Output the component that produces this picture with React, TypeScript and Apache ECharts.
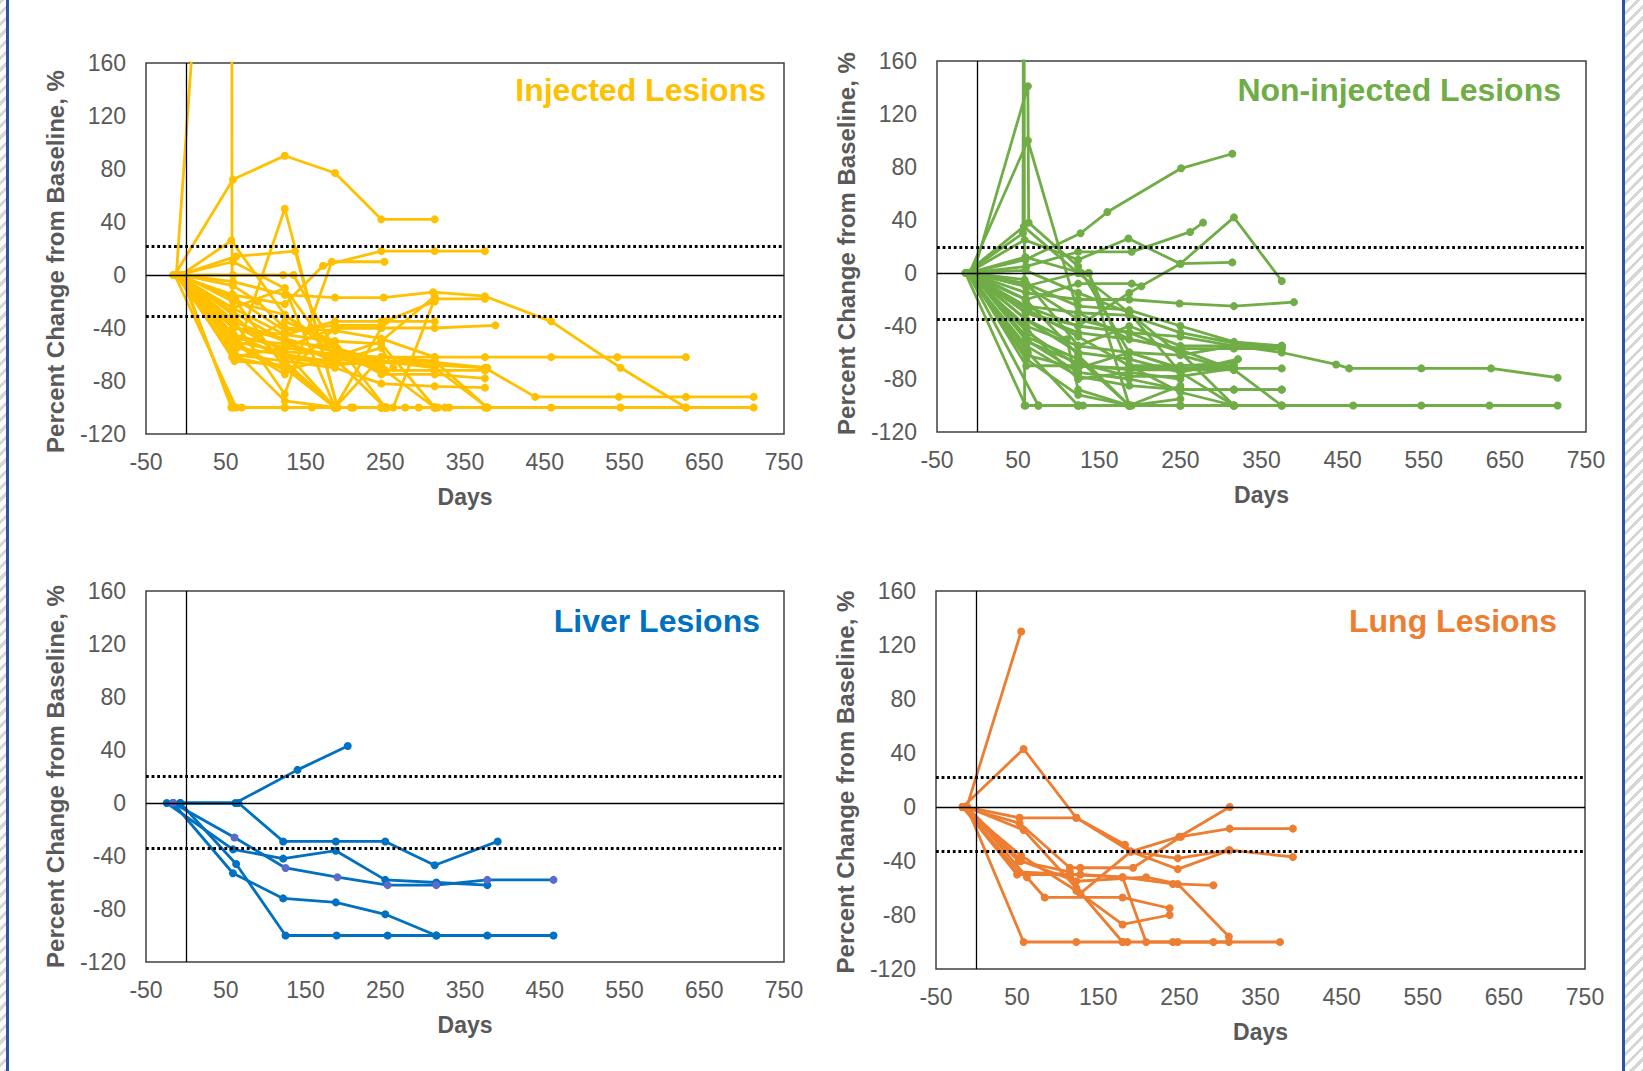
import React, { useEffect, useRef } from "react";
import * as echarts from "echarts";

type Pt = [number, number];

// ---------- DATA ----------
const panelTitles = ["Injected Lesions", "Non-injected Lesions", "Liver Lesions", "Lung Lesions"];
const panelColors = ["#FFC000", "#70AD47", "#0070C0", "#ED7D31"];
const upperThresholds = [21.5, 19.5, 20, 22];
const lowerThresholds = [-31, -35, -34, -32.5];
const xTickMin = -50;
const xTickMax = 750;
const xTickStep = 100;
const yTickMin = -120;
const yTickMax = 160;
const yTickStep = 40;

const injectedLesions: Pt[][] = [
  [[-12, 0], [57, 590], [58, -62], [124, -70], [187, -100], [245, -100]],
  [[-14, 0], [59, 72], [124, 90], [187, 77], [245, 42], [312, 42]],
  [[-10, 0], [61, -62], [124, 50], [190, -100], [252, -100]],
  [[-8, 0], [63, 14], [137, 18], [190, -100], [250, -100], [312, -100]],
  [[-6, 0], [57, 26], [124, -30], [187, -60], [245, -66], [312, -66], [378, -70]],
  [[-14, 0], [59, -45], [124, -55], [187, -60], [245, -66], [312, -68], [375, -70], [438, -92], [543, -92], [627, -92], [712, -92]],
  [[-12, 0], [59, -60], [124, -65], [187, -100], [245, -100], [312, -100], [375, -100], [458, -100], [545, -100], [627, -100], [712, -100]],
  [[-10, 0], [59, -50], [124, -58], [187, -60], [245, -62], [312, -62], [375, -62], [458, -62], [541, -62], [627, -62]],
  [[-8, 0], [59, -5], [124, -15], [187, -17], [248, -17], [310, -13], [375, -16], [458, -35], [545, -70], [627, -100]],
  [[-16, 0], [59, -25], [124, -45], [187, -50], [250, -100], [260, -100], [312, -18], [375, -18]],
  [[-12, 0], [59, -15], [124, -22], [172, 7], [245, 18], [312, 18], [375, 18]],
  [[-9, 0], [61, -35], [124, -90], [183, 10], [249, 10]],
  [[-7, 0], [59, -100], [70, -100], [124, -100], [158, -100], [187, -100]],
  [[-5, 0], [57, -100], [124, -100], [187, -100], [207, -100], [252, -100]],
  [[-14, 0], [63, -100], [124, -100], [187, -100], [245, -100], [275, -100], [292, -100], [312, -100], [325, -100]],
  [[-11, 0], [59, -62], [124, -55], [187, -40], [245, -40], [312, -40], [388, -38]],
  [[-13, 0], [59, -40], [124, -45], [187, -35], [245, -35], [312, -35]],
  [[-9, 0], [59, 0], [122, 0], [135, 0], [190, -60], [245, -72], [312, -72], [375, -72]],
  [[-6, 0], [59, -20], [124, -30], [187, -55], [245, -75], [312, -75], [375, -78]],
  [[-8, 0], [59, -30], [124, -65], [187, -70], [245, -82], [312, -84], [375, -85]],
  [[-10, 0], [59, -50], [124, -72], [187, -62], [245, -50], [312, -16]],
  [[-15, 0], [59, -35], [124, -50], [187, -55], [245, -65], [312, -65], [378, -100]],
  [[-4, 0], [57, -55], [124, -95], [187, -100], [245, -100], [312, -100], [378, -100]],
  [[-7, 0], [59, -38], [124, -58], [187, -100], [210, -100]],
  [[-12, 0], [60, -45], [124, -62], [187, -68], [245, -65], [312, -70], [378, -100]],
  [[-9, 0], [61, -65], [124, -68], [187, -100], [245, -62], [312, -65]],
  [[-11, 0], [59, -25], [124, -10], [187, -100], [250, -100]],
  [[-6, 0], [59, -8], [90, -20], [124, -40], [187, -42], [245, -48], [312, -62]],
  [[-13, 0], [64, -55], [124, -35], [187, -50], [245, -52], [312, -100], [330, -100]],
  [[-10, 0], [59, 10], [124, -10], [187, -62], [245, -65]],
  [[-8, 0], [60, -40], [124, -48], [187, -58], [245, -70], [312, -100]],
  [[-14, 0], [57, -15], [124, -70], [187, -100], [250, -35], [312, -20]],
  [[-5, 0], [59, -45], [126, -62], [190, -65], [250, -100], [316, -100]],
  [[-7, 0], [61, -52], [124, -75], [187, -40], [245, -40]],
  [[-12, 0], [59, -28], [124, -50], [187, -65], [245, -55], [260, -70]],
  [[-9, 0], [62, -18], [124, -42], [187, -38], [245, -38]],
  [[-10, 0], [60, -55], [124, -60], [187, -66], [245, -68]],
  [[-13, 0], [62, -48], [124, -52], [187, -62], [250, -72]],
];

const nonInjectedLesions: Pt[][] = [
  [[-14, 0], [56, 30], [57, 400], [58, -100], [75, -100], [124, -100]],
  [[-5, 0], [62, 141], [63, 38], [124, 5], [187, -60], [250, -72]],
  [[-10, 0], [62, 100], [124, -30], [187, -50], [250, -58], [316, -73]],
  [[-12, 0], [59, 10], [127, 30], [160, 46], [251, 79], [314, 90]],
  [[-10, 0], [60, 5], [124, 16], [190, 16], [262, 31], [278, 38]],
  [[-12, 0], [58, 25], [124, 10], [186, 26], [250, 7], [314, 8]],
  [[-8, 0], [59, -30], [124, -40], [187, -15], [250, 7], [316, 42], [375, -6]],
  [[-8, 0], [60, -20], [124, -8], [190, -8], [202, -10]],
  [[-10, 0], [60, -15], [124, -20], [187, -20], [249, -23], [316, -25], [390, -22]],
  [[-15, 0], [59, -100], [75, -100], [124, -100], [187, -100]],
  [[-12, 0], [75, -100], [124, -100], [187, -100], [250, -100]],
  [[-10, 0], [60, -70], [124, -70], [187, -72], [250, -72], [316, -72], [375, -72]],
  [[-14, 0], [60, -40], [124, -55], [187, -60], [250, -62], [316, -55], [375, -55]],
  [[-9, 0], [60, -30], [124, -45], [187, -50], [250, -57], [316, -57], [375, -57]],
  [[-12, 0], [59, -25], [124, -40], [187, -45], [250, -48], [316, -55], [375, -60], [442, -69], [458, -72], [547, -72], [633, -72], [715, -79]],
  [[-10, 0], [62, -45], [124, -70], [187, -73], [250, -73], [316, -73], [375, -100], [463, -100], [547, -100], [631, -100], [715, -100]],
  [[-8, 0], [59, -50], [124, -75], [187, -80], [250, -88], [316, -88], [375, -88]],
  [[-13, 0], [60, -55], [124, -78], [187, -85], [250, -88], [316, -88], [375, -88]],
  [[-7, 0], [59, -35], [124, -60], [187, -65], [250, -75], [321, -65]],
  [[-11, 0], [62, -60], [124, -100], [130, -100], [187, -100], [250, -100], [316, -100], [375, -100]],
  [[-9, 0], [59, -10], [124, 0], [137, 0], [187, -100], [190, -100], [250, -95]],
  [[-12, 0], [59, 12], [128, 0], [137, 0], [187, -70], [250, -90], [316, -100]],
  [[-14, 0], [60, -25], [124, -30], [187, -32], [250, -45], [316, -53], [375, -55]],
  [[-6, 0], [60, -10], [124, -35], [187, -45], [250, -60], [316, -100]],
  [[-10, 0], [58, -5], [124, -55], [187, -40], [250, -55], [316, -55], [375, -57]],
  [[-8, 0], [60, -48], [124, -65], [187, -100], [250, -85]],
  [[-12, 0], [60, -35], [110, -50], [124, -88], [187, -100], [250, -100]],
  [[-10, 0], [62, -28], [124, -48], [187, -70], [250, -70], [316, -68]],
  [[-9, 0], [60, -8], [124, -25], [187, -28], [250, -40], [316, -52], [375, -55]],
  [[-14, 0], [57, 35], [124, 0], [187, -30], [250, -75], [316, -100], [375, -100]],
  [[-11, 0], [60, -62], [124, -72], [187, -60], [250, -72], [316, -70]],
  [[-7, 0], [62, -52], [124, -68], [187, -78], [250, -78], [316, -72]],
  [[-13, 0], [59, -20], [124, -62], [187, -100], [250, -100]],
  [[-10, 0], [60, -42], [124, -80], [187, -75], [250, -80]],
  [[-8, 0], [59, 2], [124, -15], [187, -30], [250, -62], [316, -73]],
  [[-12, 0], [60, -65], [124, -92], [187, -100], [250, -100], [316, -100]],
];

const liverLesions: Pt[][] = [
  [[-7, 0], [62, 0], [140, 25], [203, 43]],
  [[-16, 0], [66, 0], [122, -29], [188, -29], [250, -29], [312, -47], [391, -29]],
  [[-24, 0], [59, -35], [122, -42], [188, -36], [250, -58], [314, -60], [378, -62]],
  [[-7, 0], [63, -46], [125, -100], [189, -100], [253, -100], [314, -100], [378, -100], [461, -100]],
  [[-16, 0], [59, -53], [122, -72], [188, -75], [250, -84], [314, -100]],
  [[-16, 0], [61, -26], [125, -49], [190, -56], [253, -62], [314, -62], [378, -58], [461, -58]],
];
const liverMarkerColors = ["#0070C0", "#0070C0", "#0070C0", "#0070C0", "#0070C0", "#5B6BC8"];

const lungLesions: Pt[][] = [
  [[-12, 0], [55, 130]],
  [[-17, 0], [58, 43], [123, -8], [183, -28], [190, -33], [248, -46], [312, -32], [390, -37]],
  [[-12, 0], [53, -8], [123, -8], [190, -33], [250, -22], [312, 0]],
  [[-17, 0], [53, -12], [115, -45], [128, -45], [193, -45], [252, -22], [312, -16], [390, -16]],
  [[-12, 0], [58, -17], [123, -60], [180, -100], [186, -100]],
  [[-17, 0], [52, -48], [115, -50], [180, -52], [242, -57], [292, -58]],
  [[-12, 0], [62, -52], [84, -67], [180, -67], [238, -75]],
  [[-17, 0], [55, -36], [123, -62], [180, -87], [238, -80]],
  [[-12, 0], [58, -100], [123, -100], [180, -100], [248, -100], [292, -100], [374, -100]],
  [[-17, 0], [50, -50], [128, -50], [180, -52], [209, -100], [242, -100], [311, -100]],
  [[-12, 0], [55, -40], [123, -55], [209, -52], [248, -57], [311, -96]],
  [[-17, 0], [52, -40], [115, -48], [128, -64], [190, -33], [248, -38], [311, -32]],
];

// ---------- LAYOUT / STYLE ----------
const FONT = '"Liberation Sans", Arial, Helvetica, sans-serif';
const GRAY = "#595959";
const grids = [
  { left: 146, top: 63, width: 638, height: 371 },
  { left: 937, top: 61, width: 649, height: 371 },
  { left: 146, top: 591, width: 638, height: 371 },
  { left: 936, top: 591, width: 649, height: 378 },
];
const titlePos = [
  { x: 766, y: 90 },
  { x: 1561, y: 90 },
  { x: 760, y: 621 },
  { x: 1557, y: 621 },
];
const yNamePadding = [
  [0, 26, 0, 0],
  [0, 0, 0, 6],
  [0, 0, 0, 0],
  [0, 4, 0, 0],
];

export default function App() {
  const ref = useRef<HTMLDivElement>(null);
  useEffect(() => {
    if (!ref.current) return;
    const chart = echarts.init(ref.current, null, { renderer: "svg" });
    const allLesions = [injectedLesions, nonInjectedLesions, liverLesions, lungLesions];
    const series: any[] = [];
    allLesions.forEach((lesions, i) => {
      const color = panelColors[i];
      series.push({
        type: "line",
        xAxisIndex: i,
        yAxisIndex: i,
        data: [[0, 0]],
        symbol: "none",
        lineStyle: { width: 0 },
        silent: true,
        z: 1,
        markLine: {
          silent: true,
          symbol: ["none", "none"],
          label: { show: false },
          data: [
            { xAxis: 0, lineStyle: { color: "#000", width: 1.3, type: "solid" } },
            { yAxis: 0, lineStyle: { color: "#000", width: 1.3, type: "solid" } },
          ],
        },
      });
      lesions.forEach((l, j) => {
        const mc = i === 2 ? liverMarkerColors[j] : color;
        series.push({
          type: "line",
          xAxisIndex: i,
          yAxisIndex: i,
          data: l,
          symbol: "circle",
          symbolSize: 8,
          clip: true,
          silent: true,
          lineStyle: { color, width: 2.8 },
          itemStyle: { color: mc },
          z: 2,
        });
      });
      series.push({
        type: "line",
        xAxisIndex: i,
        yAxisIndex: i,
        data: [[0, 0]],
        symbol: "none",
        lineStyle: { width: 0 },
        silent: true,
        z: 3,
        markLine: {
          silent: true,
          symbol: ["none", "none"],
          label: { show: false },
          data: [
            { yAxis: upperThresholds[i], lineStyle: { color: "#000", width: 2.8, type: [2.8, 2.8] } },
            { yAxis: lowerThresholds[i], lineStyle: { color: "#000", width: 2.8, type: [2.8, 2.8] } },
          ],
        },
      });
    });

    const option: any = {
      animation: false,
      backgroundColor: "#fff",
      grid: grids.map((g) => ({
        ...g,
        show: true,
        borderColor: "#404040",
        borderWidth: 1.5,
        backgroundColor: "transparent",
      })),
      xAxis: grids.map((_, i) => ({
        type: "value",
        gridIndex: i,
        min: xTickMin,
        max: xTickMax,
        interval: xTickStep,
        axisLine: { show: false },
        axisTick: { show: false },
        splitLine: { show: false },
        axisLabel: { color: GRAY, fontSize: 23, fontFamily: FONT, margin: 16 },
        name: "Days",
        nameLocation: "middle",
        nameGap: 51,
        nameTextStyle: { color: GRAY, fontSize: 23, fontWeight: "bold", fontFamily: FONT },
      })),
      yAxis: grids.map((_, i) => ({
        type: "value",
        gridIndex: i,
        min: yTickMin,
        max: yTickMax,
        interval: yTickStep,
        axisLine: { show: false },
        axisTick: { show: false },
        splitLine: { show: false },
        axisLabel: { color: GRAY, fontSize: 23, fontFamily: FONT, margin: 20 },
        name: "Percent Change from Baseline, %",
        nameLocation: "middle",
        nameGap: 79,
        nameTextStyle: { color: GRAY, fontSize: 24, fontWeight: "bold", fontFamily: FONT, padding: yNamePadding[i] },
      })),
      graphic: panelTitles.map((t, i) => ({
        type: "text",
        x: titlePos[i].x,
        y: titlePos[i].y,
        z: 10,
        style: {
          text: t,
          fill: panelColors[i],
          font: `bold 32px ${FONT}`,
          align: "right",
          verticalAlign: "middle",
        },
      })),
      series,
    };
    chart.setOption(option);
    return () => chart.dispose();
  }, []);

  const hatch = "repeating-linear-gradient(135deg, #d6d6d6 0px, #d6d6d6 3px, #ffffff 3px, #ffffff 8px)";
  return (
    <div style={{ position: "fixed", left: 0, top: 0, width: 1643, height: 1071, background: "#fff", overflow: "hidden" }}>
      <div ref={ref} style={{ position: "absolute", left: 0, top: 0, width: 1643, height: 1071 }} />
      <div style={{ position: "absolute", left: 0, top: 0, width: 6, height: 1071, background: hatch }} />
      <div style={{ position: "absolute", left: 6, top: 0, width: 2.5, height: 1071, background: "#2E54A0" }} />
      <div style={{ position: "absolute", left: 1622, top: 0, width: 2.5, height: 1071, background: "#2E54A0" }} />
      <div style={{ position: "absolute", left: 1625, top: 0, width: 18, height: 1071, background: hatch }} />
    </div>
  );
}
